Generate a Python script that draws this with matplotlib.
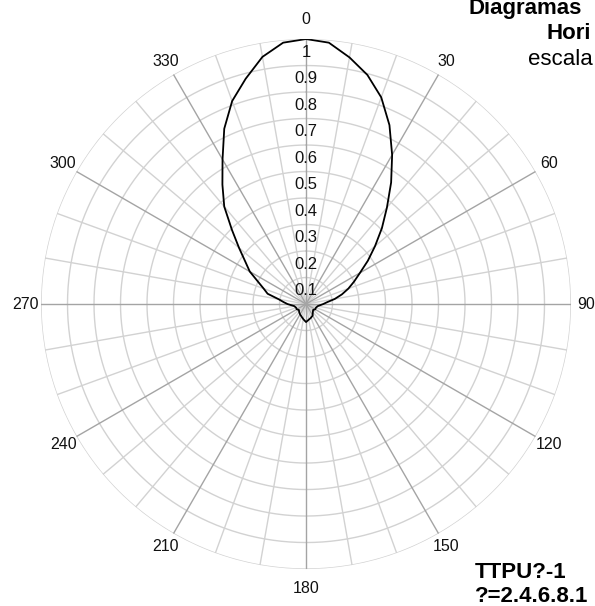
import numpy as np
import matplotlib
matplotlib.use("Agg")
import matplotlib.pyplot as plt

# Pattern (angle in degrees clockwise from north, relative level)
angles_deg = [0, 5, 10, 15, 20, 25, 30, 35, 40, 45, 50, 55, 60, 65, 70, 75, 80, 85, 90,
              100, 110, 120, 130, 140, 150, 160, 170, 180, 190, 200, 210, 220, 230, 240,
              250, 260, 270, 275, 280, 285, 290, 295, 300, 305, 310, 315, 320, 325, 330,
              335, 340, 345, 350, 355, 360]
levels = [1.0, 0.99, 0.945, 0.895, 0.83, 0.745, 0.65, 0.56, 0.475, 0.405, 0.34, 0.285, 0.235,
          0.2, 0.17, 0.14, 0.11, 0.08, 0.065,
          0.045, 0.04, 0.04, 0.035, 0.04, 0.05, 0.055, 0.06, 0.068, 0.058, 0.05, 0.045, 0.04,
          0.035, 0.04, 0.04, 0.045, 0.07, 0.085, 0.105, 0.15, 0.17, 0.2, 0.245, 0.28, 0.33,
          0.395, 0.48, 0.55, 0.63, 0.73, 0.815, 0.88, 0.947, 0.99, 1.0]

ring_values = [0.1, 0.2, 0.3, 0.4, 0.5, 0.6, 0.7, 0.8, 0.9, 1.0]
ring_labels = ["0.1", "0.2", "0.3", "0.4", "0.5", "0.6", "0.7", "0.8", "0.9", "1"]
angle_ticks = [0, 30, 60, 90, 120, 150, 180, 210, 240, 270, 300, 330]
angle_labels = ["0", "30", "60", "90", "120", "150", "180", "210", "240", "270", "300", "330"]

LABEL_FONT = ["Liberation Sans", "DejaVu Sans"]
ARIAL = ["Liberation Sans", "DejaVu Sans"]

fig = plt.figure(figsize=(5.95, 6.06), dpi=100)
ax = fig.add_axes([0.0689, 0.0610, 0.8908, 0.8746], projection="polar")
ax.set_theta_zero_location("N")
ax.set_theta_direction(-1)
ax.set_ylim(0, 1)
ax.grid(False)
ax.set_xticks([])
ax.set_yticks([])
ax.spines["polar"].set_visible(False)

full = np.linspace(0, 2 * np.pi, 721)
light = "#d2d2d2"
dark = "#a4a4a4"
for r in ring_values:
    ax.plot(full, np.full_like(full, r), color=light, lw=1.0, zorder=1)
for a in range(0, 360, 10):
    col = dark if a % 30 == 0 else light
    ax.plot([np.deg2rad(a)] * 2, [0, 1], color=col, lw=1.0, zorder=2 if a % 30 == 0 else 1)

ax.plot(np.deg2rad(angles_deg), levels, color="black", lw=1.3, zorder=4)

for r, lab in zip(ring_values, ring_labels):
    ax.text(0, r - 0.05, lab, ha="center", va="center", fontsize=12,
            family=LABEL_FONT, color="#111111", zorder=5)
for a, lab in zip(angle_ticks, angle_labels):
    rad = 1.075 if a in (0, 180) else 1.058
    ax.text(np.deg2rad(a), rad, lab, ha="center", va="center", fontsize=11.5,
            family=LABEL_FONT, color="#111111", zorder=5)

fig.text(468 / 595, 1 - 14 / 606, "Diagramas", ha="left", va="baseline",
         fontsize=16, fontweight="bold", family=ARIAL)
fig.text(547 / 595, 1 - 39 / 606, "Hori", ha="left", va="baseline",
         fontsize=16, fontweight="bold", family=ARIAL)
fig.text(528 / 595, 1 - 65 / 606, "escala", ha="left", va="baseline",
         fontsize=16, family=ARIAL)
fig.text(475 / 595, 1 - 578 / 606, "TTPU?-1", ha="left", va="baseline",
         fontsize=16, fontweight="bold", family=ARIAL)
fig.text(475 / 595, 1 - 602 / 606, "?=2.4.6.8.1", ha="left", va="baseline",
         fontsize=16, fontweight="bold", family=ARIAL)

fig.savefig("out.png", dpi=100, facecolor="white")
